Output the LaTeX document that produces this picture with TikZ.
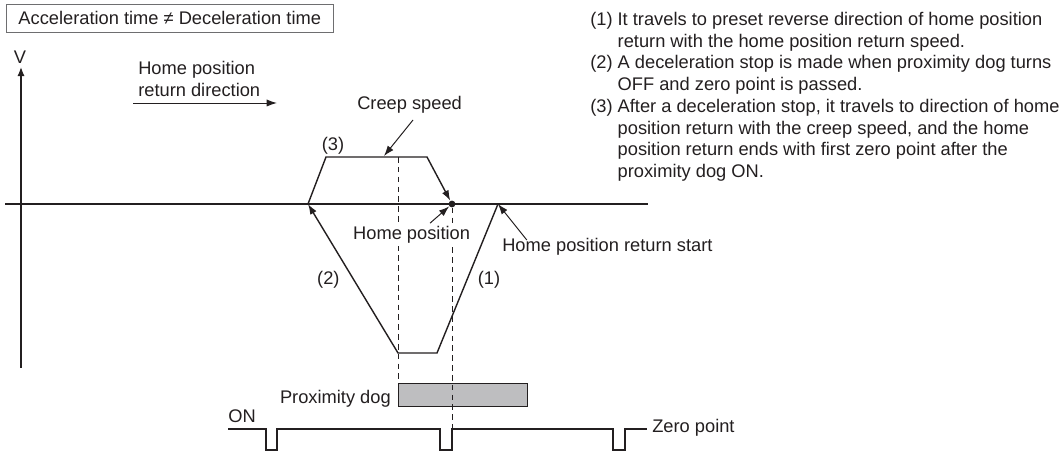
\documentclass[tikz,border=0pt]{standalone}
\usepackage{fontspec}
\setmainfont{Liberation Sans}
\usetikzlibrary{arrows.meta,positioning}
\definecolor{ink}{RGB}{35,31,32}
\definecolor{dogfill}{RGB}{190,190,192}
\definecolor{framegray}{RGB}{110,110,112}
\begin{document}
\begin{tikzpicture}[every node/.style={font=\fontsize{13}{15.5}\selectfont, text=ink, inner sep=0pt},axis/.style={-{Latex[length=2.3mm,width=1.8mm]}, line width=0.9pt, draw=ink},curve/.style={line width=1pt, draw=ink},pointer/.style={-{Latex[length=2.6mm,width=1.8mm]}, line width=0.7pt, draw=ink},guide/.style={line width=0.65pt, draw=ink, dash pattern=on 4pt off 3pt},titlebox/.style={draw=framegray, line width=0.6pt, inner xsep=0.3cm, minimum height=0.7cm},dogbox/.style={draw=ink, fill=dogfill, line width=0.9pt, minimum width=3.225cm, minimum height=0.575cm}]
\useasboundingbox (0,0) rectangle (26.5,-11.3);
\node[titlebox, anchor=west] (title) at (0.15,-0.45) {Acceleration time ≠ Deceleration time};
\node[anchor=north west] (notes) at (14.75,-0.2425) {\begin{tabular}{@{}l@{\hspace{3.6pt}}l@{}}
(1) & It travels to preset reverse direction of home position\\
 & return with the home position return speed.\\
(2) & A deceleration stop is made when proximity dog turns\\
 & OFF and zero point is passed.\\
(3) & After a deceleration stop, it travels to direction of home\\
 & position return with the creep speed, and the home\\
 & position return ends with first zero point after the\\
 & proximity dog ON.
\end{tabular}};
\coordinate (vbot) at (0.525,-9.2); \coordinate (vtop) at (0.525,-1.675); \node (vlab) at (0.5,-1.425) {V};
\draw[axis] (vbot) -- (vtop);
\coordinate (hleft) at (0.125,-5.1); \coordinate (hright) at (16.2,-5.1); \draw[line width=0.9pt, draw=ink] (hleft) -- (hright);
\node[anchor=north west, align=left] (dirlab) at (3.45,-1.535) {Home position\\return direction};
\coordinate (dirfrom) at (3.325,-2.575); \coordinate (dirto) at (6.925,-2.575); \draw[pointer] (dirfrom) -- (dirto);
\coordinate (start) at (12.45,-5.1); \coordinate (botr) at (10.925,-8.825); \coordinate (botl) at (9.95,-8.825); \coordinate (axisl) at (7.7,-5.1);
\coordinate (topl) at (8.15,-3.925); \coordinate (topm) at (9.95,-3.925); \coordinate (topr) at (10.675,-3.925);
\node[circle, fill=ink, minimum size=0.17cm] (home) at (11.3,-5.1) {};
\draw[curve, -{Latex[length=2.6mm,width=1.8mm]}] (start) -- (botr) -- (botl) -- (axisl);
\draw[curve, -{Latex[length=2.6mm,width=1.8mm]}] (axisl) -- (topl) -- (topr) -- (home);
\node[dogbox, anchor=north west] (dog) at (9.95,-9.575) {};
\coordinate (zp2) at (11.3,-10.725);
\draw[guide] (topm) -- (dog.north west); \draw[guide] (home) -- (zp2);
\node[anchor=base] (step3) at (8.325,-3.775) {(3)}; \node[anchor=base] (step2) at (8.21,-7.11) {(2)}; \node[anchor=base] (step1) at (12.225,-7.11) {(1)};
\node[anchor=base] (creep) at (10.24,-2.74) {Creep speed};
\coordinate (creepfrom) at (10.325,-3.0); \coordinate (creepto) at (9.6,-3.9); \draw[pointer] (creepfrom) -- (creepto);
\node[anchor=base, fill=white, inner ysep=2pt, inner xsep=1pt] (homelab) at (10.29,-5.99) {Home position};
\coordinate (homefrom) at (10.75,-5.58); \draw[pointer] (homefrom) -- (home);
\node[anchor=base west] (startlab) at (12.55,-6.28) {Home position return start};
\coordinate (startfrom) at (13.17,-6.0); \draw[pointer] (startfrom) -- (start);
\node[anchor=base east] (doglab) at (9.775,-10.08) {Proximity dog};
\node[anchor=base west] (onlab) at (5.7,-10.575) {ON};
\draw[curve, line join=miter] (5.7,-10.725) -- (6.65,-10.725) -- (6.65,-11.25) -- (6.925,-11.25) -- (6.925,-10.725) -- (11.0,-10.725) -- (11.0,-11.25) -- (11.3,-11.25) -- (zp2) -- (15.325,-10.725) -- (15.325,-11.25) -- (15.625,-11.25) -- (15.625,-10.725) -- (16.175,-10.725);
\node[anchor=base west] (zerolab) at (16.3,-10.82) {Zero point};
\end{tikzpicture}
\end{document}
